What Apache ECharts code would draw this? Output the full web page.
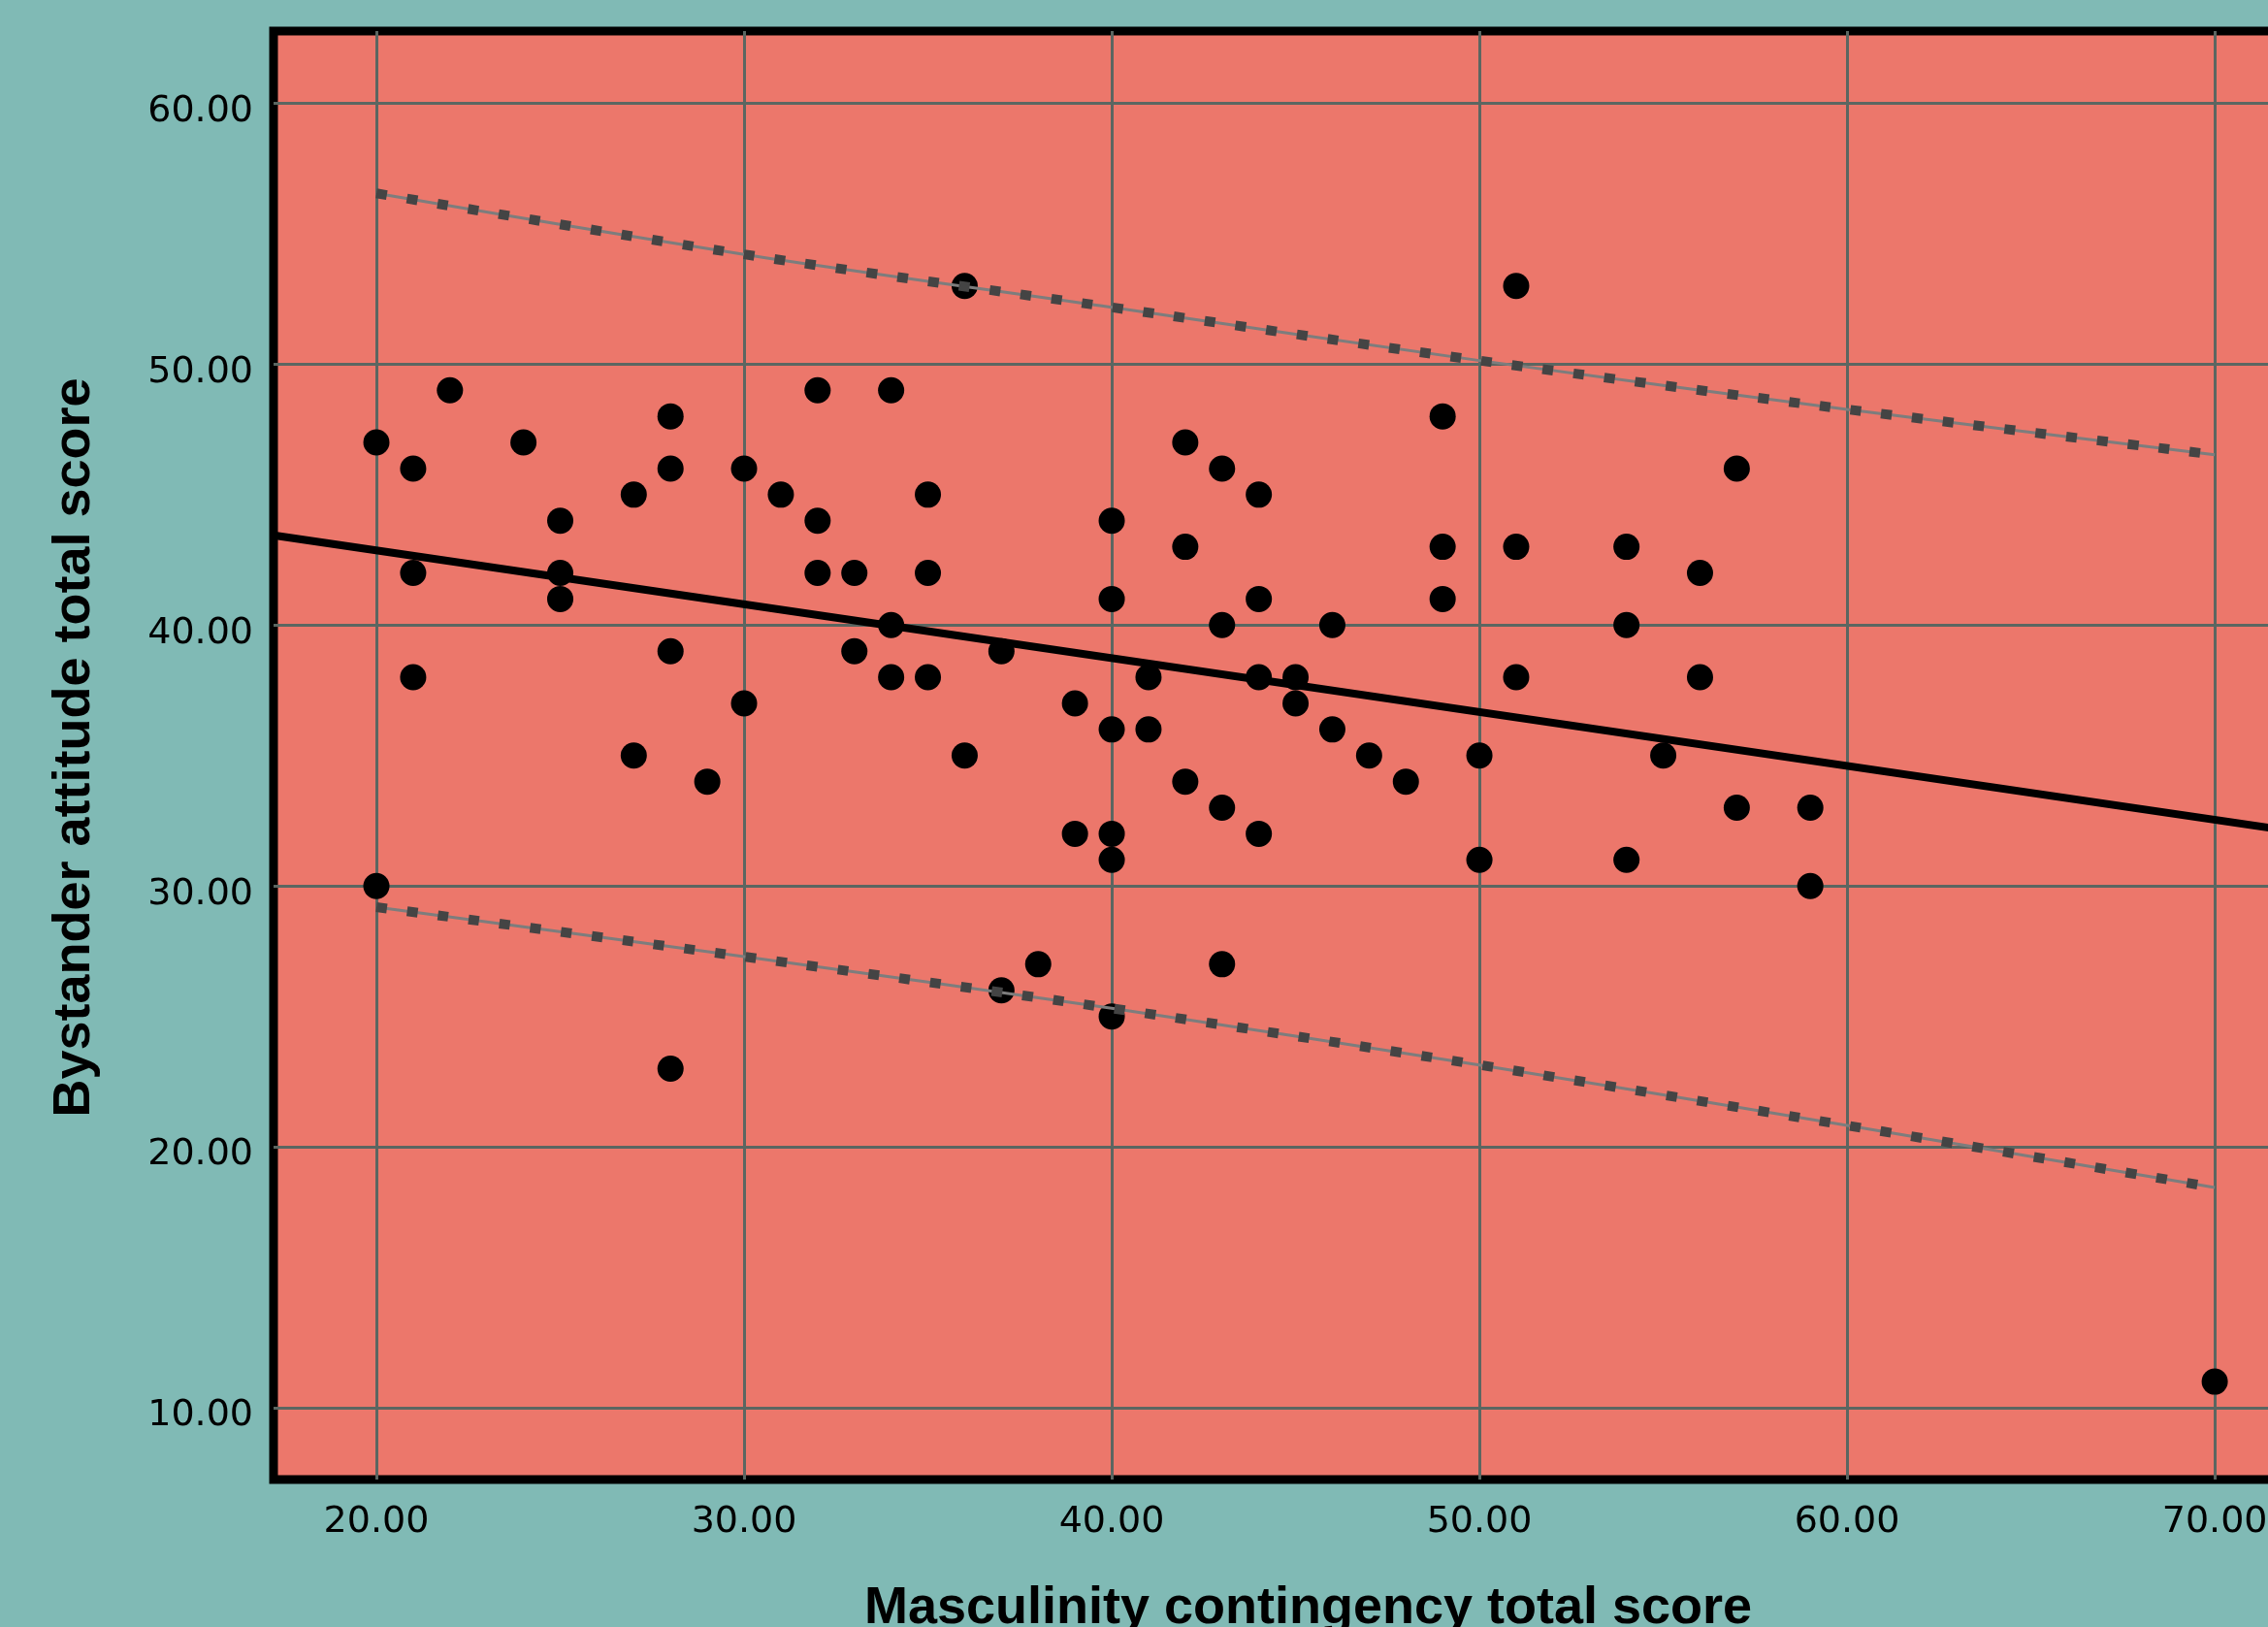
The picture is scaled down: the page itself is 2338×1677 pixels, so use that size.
<!DOCTYPE html>
<html>
<head>
<meta charset="utf-8">
<script src="https://cdn.jsdelivr.net/npm/echarts@6/dist/echarts.min.js"></script>
<style>
  html, body { margin: 0; padding: 0; background: #80bab5; }
  #main { width: 2338px; height: 1677px; }
</style>
</head>
<body>
<div id="main"></div>
<script>
// masculinity contingency score (x) and bystander attitude score (y), one entry per respondent
var xScore = [20,20,21,21,21,22,24,25,25,25,27,27,28,28,28,28,29,30,30,31,32,32,32,33,33,34,34,34,35,35,35,36,36,37,37,38,39,39,
              40,40,40,40,40,40,41,41,42,42,42,43,43,43,43,44,44,44,44,45,45,46,46,47,48,49,49,49,50,50,51,51,51,54,54,54,55,56,56,57,57,59,59,70];
var yScore = [47,30,46,42,38,49,47,44,42,41,45,35,48,46,39,23,34,46,37,45,49,44,42,42,39,49,40,38,45,42,38,53,35,39,26,27,37,32,
              44,41,36,32,31,25,38,36,47,43,34,46,40,33,27,45,41,38,32,38,37,40,36,35,34,48,43,41,35,31,53,43,38,43,40,31,35,42,38,46,33,33,30,11];

// regression line (runs across the whole plot)
var fitX = [17.2, 73.48];
var fitY = [43.44, 31.82];

// prediction interval curves
var bandX = [20, 30, 40, 50, 60, 70];
var bandUpper = [56.55, 54.21, 52.18, 50.14, 48.27, 46.53];
var bandLower = [29.19, 27.29, 25.31, 23.14, 20.82, 18.44];

// tick positions
var xTicks = [20, 30, 40, 50, 60, 70];
var yTicks = [10, 20, 30, 40, 50, 60];

function pairs(xs, ys) {
  var out = [];
  for (var i = 0; i < xs.length; i++) out.push([xs[i], ys[i]]);
  return out;
}

function tickFmt(v) {
  if (Math.abs(v - Math.round(v / 10) * 10) < 1e-6) return v.toFixed(2);
  return '';
}

var labelStyle = { fontSize: 38, fontFamily: 'DejaVu Sans', color: '#000', formatter: tickFmt };
var gridLine = { show: true, lineStyle: { color: '#5b6661', width: 3 } };

var myChart = echarts.init(document.getElementById('main'));
var option = {
  backgroundColor: '#80bab5',
  animation: false,
  grid: {
    left: 282, top: 32, right: -77, bottom: 152,
    show: true,
    backgroundColor: '#ec776b',
    borderColor: '#000',
    borderWidth: 9,
    containLabel: false,
    outerBoundsMode: 'none'
  },
  xAxis: {
    type: 'value',
    min: 17.203,
    max: 73.48,
    name: 'Masculinity contingency total score',
    nameLocation: 'middle',
    nameGap: 106,
    nameMoveOverlap: false,
    nameTextStyle: { fontSize: 54, fontWeight: 'bold', fontFamily: 'Liberation Sans', color: '#000' },
    axisLine: { show: false },
    axisTick: { show: false, customValues: xTicks },
    axisLabel: Object.assign({}, labelStyle, { margin: 25, customValues: xTicks }),
    splitLine: gridLine
  },
  yAxis: {
    type: 'value',
    min: 7.248,
    max: 62.77,
    name: 'Bystander attitude total score',
    nameLocation: 'middle',
    nameGap: 178,
    nameMoveOverlap: false,
    nameTextStyle: { fontSize: 54, fontWeight: 'bold', fontFamily: 'Liberation Sans', color: '#000', padding: [0, 0, 0, 16] },
    axisLine: { show: false },
    axisTick: { show: false, customValues: yTicks },
    axisLabel: Object.assign({}, labelStyle, { margin: 21, verticalAlign: 'top', lineHeight: 17, customValues: yTicks }),
    splitLine: gridLine
  },
  series: [
    {
      type: 'line',
      data: pairs(fitX, fitY),
      symbol: 'none',
      lineStyle: { color: '#000', width: 8 },
      z: 2
    },
    {
      type: 'scatter',
      data: pairs(xScore, yScore),
      symbol: 'circle',
      symbolSize: 27,
      itemStyle: { color: '#000', opacity: 1 },
      z: 3
    },
    {
      type: 'line',
      data: pairs(bandX, bandUpper),
      smooth: 0.3,
      symbol: 'none',
      lineStyle: { color: '#7d7d7d', width: 3 },
      z: 4
    },
    {
      type: 'line',
      data: pairs(bandX, bandUpper),
      smooth: 0.3,
      symbol: 'none',
      lineStyle: { color: '#444444', width: 10, type: [11, 21] },
      z: 5
    },
    {
      type: 'line',
      data: pairs(bandX, bandLower),
      smooth: 0.3,
      symbol: 'none',
      lineStyle: { color: '#7d7d7d', width: 3 },
      z: 4
    },
    {
      type: 'line',
      data: pairs(bandX, bandLower),
      smooth: 0.3,
      symbol: 'none',
      lineStyle: { color: '#444444', width: 10, type: [11, 21] },
      z: 5
    }
  ]
};
myChart.setOption(option);
</script>
</body>
</html>
